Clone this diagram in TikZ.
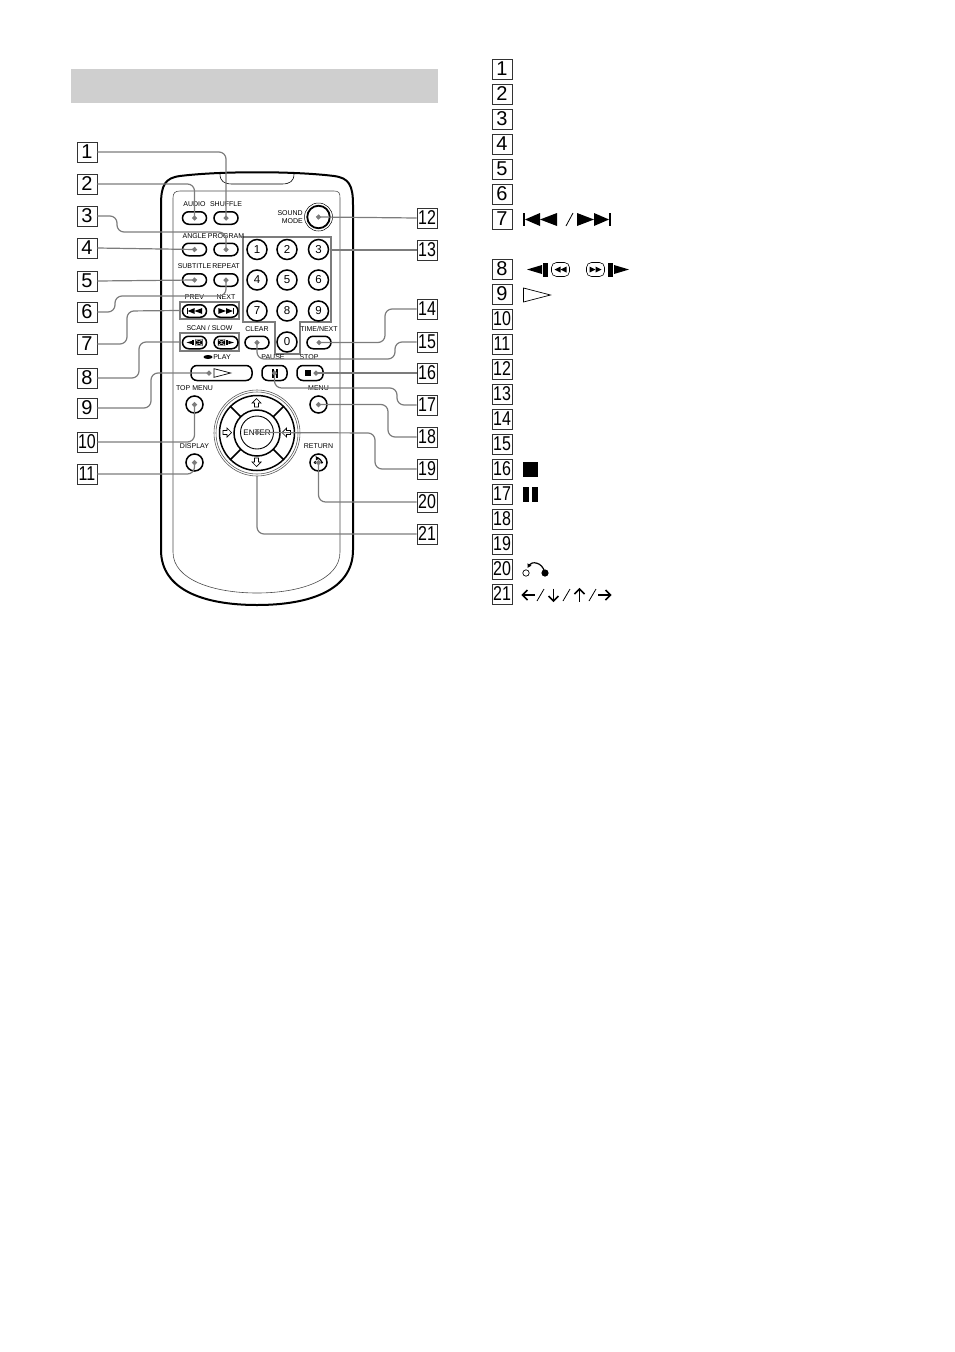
\documentclass[tikz,border=0pt]{standalone}
\usepackage{fontspec}
\setmainfont{Liberation Sans}
\usetikzlibrary{arrows.meta,shapes.misc}
\definecolor{leadgray}{HTML}{7C7C7C}
\definecolor{bandgray}{HTML}{CFCFCF}
\tikzset{
    numbox/.style={draw=black!80,line width=.9pt,minimum size=20pt,inner sep=0pt,font=\fontsize{20}{20}\selectfont},
    ovalkey/.style={draw,line width=1.5pt,rounded rectangle,minimum width=24pt,minimum height=12.5pt,inner sep=0pt},
    roundkey/.style={draw,line width=1.5pt,circle,minimum size=17pt,inner sep=0pt},
    digitkey/.style={draw,line width=1.5pt,circle,minimum size=20pt,inner sep=0pt,font=\fontsize{11.5}{11.5}\selectfont},
    widekey/.style={draw,line width=1.5pt,rounded corners=6pt,minimum height=15pt,inner sep=0pt},
    keytext/.style={inner sep=0pt,font=\fontsize{7}{7}\selectfont},
    keyframe/.style={draw=leadgray,line width=1.2pt,inner sep=0pt},
    plainlead/.style={draw=leadgray,line width=1.2pt,rounded corners=7pt},
    lead/.style={plainlead,-{Circle[length=5pt]},shorten >=-2.5pt},
    prevmark/.pic={
        \fill (-17,-6.5) rectangle (-15,6.5);
        \fill (-15,0) -- (0,-6.5) -- (0,6.5) -- cycle;
        \fill (0,0) -- (17,-6.5) -- (17,6.5) -- cycle;
    },
    scanmark/.pic={
        \fill (-21.5,0) -- (-6.5,-4.5) -- (-6.5,4.5) -- cycle;
        \fill (-5.5,-7) rectangle (-.5,7);
        \draw[line width=.6pt,rounded corners=5pt] (3,-7) rectangle (21,7);
        \fill (6,0) -- (12,-3) -- (12,3) -- cycle;
        \fill (12,0) -- (18,-3) -- (18,3) -- cycle;
    },
    playmark/.pic={\draw[line width=.7pt] (-13,-7) -- (14,0) -- (-13,7) -- cycle;},
    returnmark/.pic={
        \draw[line width=.7pt] (-9.5,0) circle (3.2);
        \fill (9.5,0) circle (3.6);
        \draw[line width=1.2pt,-{Latex[length=4pt,width=5pt]}] (9,-1) .. controls (7,-11) and (-4,-12) .. (-8,-5);
    },
    boldarrow/.pic={
        \draw[line width=1.6pt] (6.5,0) -- (-6,0);
        \draw[line width=1.6pt] (-1,-5) -- (-6,0) -- (-1,5);
    },
    padarrow/.pic={\draw[line width=.7pt,fill=white] (0,-4.5) -- (4.5,0) -- (2,0) -- (2,4) -- (-2,4) -- (-2,0) -- (-4.5,0) -- cycle;},
}

\begin{document}
\begin{tikzpicture}[x=1pt,y=-1pt]
    \useasboundingbox (0,0) rectangle (954,1352);
    \fill[bandgray] (71,69) rectangle (438,103);

    % remote body
    \draw[line width=2pt] (161,205) .. controls (161,185) and (165,178) .. (180,176)
        .. controls (220,171) and (294,171) .. (334,176)
        .. controls (349,178) and (353,185) .. (353,205) -- (353,550)
        .. controls (353,590) and (310,605) .. (257,605)
        .. controls (204,605) and (161,590) .. (161,550) -- cycle;
    \draw[line width=.6pt] (220,174) .. controls (220,181) and (224,184) .. (232,184) -- (282,184)
        .. controls (290,184) and (294,181) .. (294,174);
    \draw[line width=.6pt,draw=black!70] (173,198) .. controls (173,193) and (175,191) .. (180,191) -- (334,191)
        .. controls (339,191) and (340,193) .. (340,198) -- (340,552)
        .. controls (340,580) and (300,593) .. (257,593)
        .. controls (214,593) and (173,580) .. (173,552) -- cycle;

    % gray frames round the key groups
    \draw[draw=leadgray,line width=1.2pt] (243,237) -- (331,237) -- (331,322) -- (300,322) -- (300,354)
        -- (275,354) -- (275,322) -- (243,322) -- cycle;
    \node[keyframe,minimum width=59pt,minimum height=17pt] (prevframe) at (209.5,310.5) {};
    \node[keyframe,minimum width=59pt,minimum height=18pt] (scanframe) at (209.5,342) {};
    \coordinate (numframe) at (331,250);

    % keys
    \foreach \nm/\x/\y/\txt in {audio/194.5/218/AUDIO,shuffle/226/218/SHUFFLE,angle/194.5/249.5/ANGLE,
        program/226/249.5/PROGRAM,subtitle/194.5/280/SUBTITLE,repeatkey/226/280/REPEAT,
        prev/194.5/311/PREV,next/226/311/NEXT,scanback/194.5/342.5/{},scanfwd/226/342.5/{},
        clear/257/342.5/CLEAR,timenext/319/342.5/{TIME/NEXT}}{
        \node[ovalkey] (\nm) at (\x,\y) {};
        \node[keytext] (\nm txt) at (\x,\y-13.5) {\txt};
    }
    \foreach \d/\x/\y in {1/257/249.5,2/287/249.5,3/318.5/249.5,4/257/280,5/287/280,6/318.5/280,
        7/257/311,8/287/311,9/318.5/311,0/287/342}
        \node[digitkey] (n\d) at (\x,\y) {\d};
    \foreach \nm/\x/\y/\txt in {topmenu/194.5/404.5/TOP MENU,menu/318.5/404.5/MENU,
        display/194.5/462.5/DISPLAY,returnkey/318.5/462.5/RETURN}{
        \node[roundkey] (\nm) at (\x,\y) {};
        \node[keytext] (\nm txt) at (\x,\y-16.5) {\txt};
    }
    \node[widekey,minimum width=61pt] (play) at (221.5,373) {};
    \node[widekey,minimum width=25pt] (pause) at (274.5,373) {};
    \node[widekey,minimum width=26pt] (stop) at (310,373) {};
    \node[keytext] (scantxt) at (209.5,328) {SCAN / SLOW};
    \node[keytext] (playtxt) at (222,357) {PLAY};
    \node[keytext] (pausetxt) at (273,357) {PAUSE};
    \node[keytext] (stoptxt) at (309,357) {STOP};
    \fill (208,357) ellipse (4.5 and 2);
    \node[circle,draw,line width=.5pt,minimum size=28pt,inner sep=0pt] (soundring) at (318.5,217) {};
    \node[roundkey,line width=1.8pt,minimum size=22.5pt] (sound) at (318.5,217) {};
    \node[keytext,align=right,anchor=east] (soundtxt) at (303,217) {SOUND\\[1.5pt]MODE};

    % key marks
    \pic[scale=.45] at (194.5,311) {prevmark};
    \pic[scale=.45,xscale=-1] at (226,311) {prevmark};
    \pic[scale=.37] at (194.5,342.5) {scanmark};
    \pic[scale=.37,xscale=-1] at (226,342.5) {scanmark};
    \pic[scale=.62] at (222,373) {playmark};
    \fill (305,370) rectangle (311,376);
    \fill (271.5,369) rectangle (273.5,378);
    \fill (275.5,369) rectangle (277.5,378);
    \pic[scale=.35] at (318.5,462.5) {returnmark};

    % cross keys
    \draw[draw=black!65,line width=.6pt] (257,433) circle (43);
    \draw[draw=black!65,line width=.6pt] (257,433) circle (41);
    \draw[line width=1.5pt] (257,433) circle (37.5);
    \draw[line width=1.5pt] (257,433) circle (23);
    \foreach \ang in {45,135,225,315}
        \draw[line width=1.5pt] (257,433) ++(\ang:23) -- ++(\ang:14.5);
    \node[circle,draw,line width=.9pt,minimum size=33pt,inner sep=0pt,font=\fontsize{8}{8}\selectfont] (enter) at (257,432.5) {ENTER};
    \node[circle,minimum size=86pt,inner sep=0pt] (dpad) at (257,433) {};
    \pic at (256.5,403) {padarrow};
    \pic[rotate=-90] at (227,432.5) {padarrow};
    \pic[rotate=90] at (286.5,432.5) {padarrow};
    \pic[rotate=180] at (256.5,462) {padarrow};

    % numbers beside the remote
    \foreach \n/\y in {1/152,2/184,3/216,4/248,5/281,6/312,7/344,8/378,9/408}
        \node[numbox] (a\n) at (87,\y) {\n};
    \foreach \n/\y in {10/442,11/474}
        \node[numbox] (a\n) at (87,\y) {\scalebox{.8}[1]{\n}};
    \foreach \n/\y in {12/218,13/250,14/309,15/342,16/373,17/405,18/437,19/469,20/502,21/534}
        \node[numbox] (a\n) at (427,\y) {\scalebox{.8}[1]{\n}};

    % connectors
    \draw[lead] (a1.east) -| (shuffle.center);
    \draw[lead] (a2.east) -| (audio.center);
    \draw[lead] (a3.east) -| (117,232) -| (program.center);
    \draw[lead] (a4.east) -- (angle.center);
    \draw[lead] (a5.east) -- (subtitle.center);
    \draw[lead] (a6.east) -| (115,296) -| (repeatkey.center);
    \draw[plainlead] (a7.east) -| (127,311) -- (prevframe.west);
    \draw[plainlead] (a8.east) -| (139,342) -- (scanframe.west);
    \coordinate (playdot) at (209,373);
    \draw[lead] (a9.east) -| (151,373) -- (playdot);
    \draw[lead] (a10.east) -| (topmenu.center);
    \draw[lead] (a11.east) -| (display.center);
    \draw[lead] (a12.west) -- (sound.center);
    \draw[plainlead] (a13.west) -- (numframe);
    \draw[lead] (a14.west) -| (385,342.5) -- (timenext.center);
    \draw[lead] (a15.west) -| (395,359) -| (clear.center);
    \coordinate (stopdot) at (316,373);
    \draw[lead] (a16.west) -- (stopdot);
    \draw[lead] (a17.west) -| (397,388) -| (pause.center);
    \draw[lead] (a18.west) -| (388,404.5) -- (menu.center);
    \draw[lead] (a19.west) -| (375,433) -- (enter.center);
    \draw[lead] (a20.west) -| (returnkey.center);
    \draw[plainlead] (a21.west) -| (dpad.south);

    % list on the right
    \foreach \n/\y in {1/69,2/94,3/119,4/144,5/169,6/194,7/219,8/269,9/294}
        \node[numbox] (b\n) at (502,\y) {\n};
    \foreach \n/\y in {10/319,11/344,12/369,13/394,14/419,15/444,16/469,17/494,18/519,19/544,20/569,21/594}
        \node[numbox] (b\n) at (502,\y) {\scalebox{.8}[1]{\n}};
    \pic at (540,219.5) {prevmark};
    \draw[line width=.8pt] (566,226) -- (573,213);
    \pic[xscale=-1] at (594,219.5) {prevmark};
    \pic at (548.5,269.5) {scanmark};
    \pic[xscale=-1] at (607.5,269.5) {scanmark};
    \pic at (536.5,295) {playmark};
    \fill (523,462) rectangle (538,477);
    \fill (523,487) rectangle (529,502);
    \fill (532,487) rectangle (538,502);
    \pic at (535.5,573) {returnmark};
    \pic at (528.5,595) {boldarrow};
    \draw[line width=.8pt] (537,601) -- (544,589);
    \pic[rotate=90] at (553.5,595) {boldarrow};
    \draw[line width=.8pt] (563,601) -- (570,589);
    \pic[rotate=-90] at (579.5,595) {boldarrow};
    \draw[line width=.8pt] (589,601) -- (596,589);
    \pic[rotate=180] at (604.5,595) {boldarrow};
\end{tikzpicture}
\end{document}
